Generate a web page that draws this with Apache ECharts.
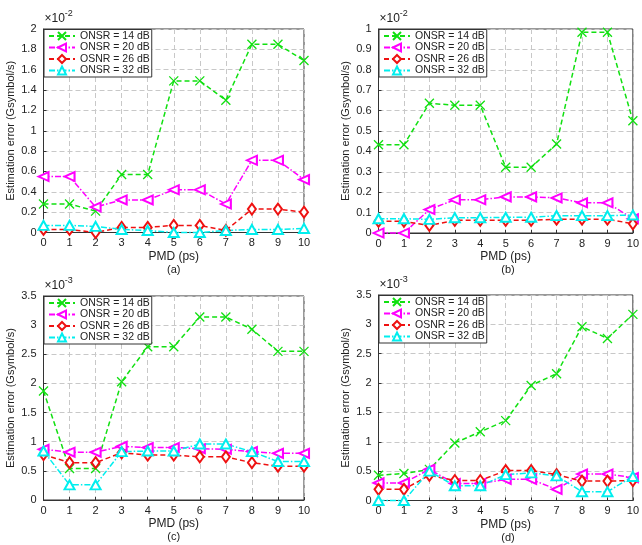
<!DOCTYPE html>
<html>
<head>
<meta charset="utf-8">
<script src="https://cdn.jsdelivr.net/npm/echarts@6/dist/echarts.min.js"></script>
<style>html,body{margin:0;padding:0;background:#fff}#c{width:642px;height:545px}</style>
</head>
<body>
<div id="c"></div>
<script>
// ---------- data ----------
const pmd = [0,1,2,3,4,5,6,7,8,9,10];
const seriesNames = ['ONSR = 14 dB','ONSR = 20 dB','OSNR = 26 dB','ONSR = 32 dB'];

// panel (a), values in units of 1e-2
const a14 = [0.28,0.28,0.21,0.57,0.57,1.49,1.49,1.30,1.85,1.85,1.69];
const a20 = [0.55,0.55,0.25,0.32,0.32,0.42,0.42,0.28,0.71,0.71,0.52];
const a26 = [0.03,0.03,0.00,0.05,0.05,0.07,0.07,0.02,0.23,0.23,0.20];
const a32 = [0.07,0.07,0.06,0.03,0.02,0.00,0.00,0.02,0.03,0.03,0.04];
// panel (b), units of 1e-2
const b14 = [0.433,0.433,0.636,0.626,0.626,0.322,0.322,0.436,0.984,0.984,0.55];
const b20 = [0.00,0.00,0.115,0.163,0.163,0.177,0.177,0.172,0.148,0.148,0.07];
const b26 = [0.057,0.057,0.037,0.062,0.062,0.062,0.062,0.068,0.068,0.068,0.045];
const b32 = [0.07,0.07,0.067,0.075,0.075,0.077,0.077,0.085,0.085,0.085,0.088];
// panel (c), units of 1e-3
const c14 = [1.87,0.54,0.54,2.03,2.63,2.63,3.14,3.14,2.93,2.55,2.55];
const c20 = [0.87,0.82,0.82,0.92,0.90,0.90,0.88,0.87,0.83,0.80,0.80];
const c26 = [0.78,0.64,0.64,0.81,0.77,0.77,0.74,0.74,0.64,0.58,0.58];
const c32 = [0.84,0.26,0.26,0.83,0.84,0.84,0.96,0.96,0.83,0.66,0.66];
// panel (d), units of 1e-3
const d14 = [0.43,0.46,0.53,0.98,1.17,1.36,1.96,2.16,2.96,2.76,3.17];
const d20 = [0.30,0.30,0.53,0.29,0.29,0.36,0.36,0.19,0.45,0.45,0.39];
const d26 = [0.19,0.19,0.43,0.34,0.34,0.51,0.51,0.44,0.33,0.33,0.34];
const d32 = [0.00,0.00,0.50,0.25,0.25,0.44,0.47,0.42,0.15,0.15,0.41];

const xTicks = [0,1,2,3,4,5,6,7,8,9,10];
const yTicksA = [0,0.2,0.4,0.6,0.8,1,1.2,1.4,1.6,1.8,2];
const yTicksB = [0,0.1,0.2,0.3,0.4,0.5,0.6,0.7,0.8,0.9,1];
const yTicksC = [0,0.5,1,1.5,2,2.5,3,3.5];
const yTicksD = [0,0.5,1,1.5,2,2.5,3,3.5];
const exponents = ['-2','-2','-3','-3'];
const panelLabels = ['(a)','(b)','(c)','(d)'];
const xTitle = 'PMD (ps)';
const yTitle = 'Estimation error (Gsymbol/s)';

// ---------- layout / style ----------
const FONT = 'Liberation Sans, Arial, sans-serif';
const TXT = '#222';
const grids = [
  {left:43.5, top:29, width:260.5, height:203.5},
  {left:378.5, top:29, width:259, height:204},
  {left:43.5, top:296, width:260.5, height:204},
  {left:378.5, top:295, width:259, height:205.5}
];
const panels = [
  {data:[a14,a20,a26,a32], ticks:yTicksA},
  {data:[b14,b20,b26,b32], ticks:yTicksB},
  {data:[c14,c20,c26,c32], ticks:yTicksC},
  {data:[d14,d20,d26,d32], ticks:yTicksD}
];
const styles = [
  {color:'#11e011', symbol:'path://M0,0L10,10M10,0L0,10', size:9, rotate:0, dash:[5,3]},
  {color:'#ff00ff', symbol:'emptyTriangle', size:[9,10], rotate:90, dash:[6,2,1.5,2]},
  {color:'#ee1111', symbol:'emptyDiamond', size:[8,11], rotate:0, dash:[5,3]},
  {color:'#00eeee', symbol:'emptyTriangle', size:[10,9], rotate:0, dash:[6,2,1.5,2]}
];

const option = {
  animation:false,
  textStyle:{fontFamily:FONT},
  grid: grids.map(g => Object.assign({show:true, borderColor:'#333', borderWidth:1, containLabel:false}, g)),
  xAxis: grids.map((g,i) => ({
    type:'value', gridIndex:i, min:xTicks[0], max:xTicks[xTicks.length-1], interval:1,
    name:xTitle, nameLocation:'middle', nameGap:18,
    nameTextStyle:{fontSize:12, color:TXT, fontFamily:FONT},
    axisLine:{show:true, lineStyle:{color:'#333', width:1}},
    axisTick:{show:true, inside:true, length:3, lineStyle:{color:'#333'}},
    axisLabel:{fontSize:11, color:TXT, margin:5, fontFamily:FONT},
    splitLine:{show:true, lineStyle:{color:'#c8c8c8', type:[5,3], width:1}}
  })),
  yAxis: panels.map((p,i) => ({
    type:'value', gridIndex:i, min:p.ticks[0], max:p.ticks[p.ticks.length-1],
    interval:p.ticks[1]-p.ticks[0],
    name:yTitle, nameLocation:'middle', nameGap:27,
    nameTextStyle:{fontSize:11, color:TXT, fontFamily:FONT},
    axisLine:{show:true, lineStyle:{color:'#333', width:1}},
    axisTick:{show:true, inside:true, length:3, lineStyle:{color:'#333'}},
    axisLabel:{fontSize:11, color:TXT, margin:7, fontFamily:FONT,
      formatter: v => String(+v.toFixed(2))},
    splitLine:{show:true, lineStyle:{color:'#c8c8c8', type:[5,3], width:1}}
  })),
  legend: grids.map((g,i) => ({
    orient:'vertical', left:g.left+0.5, top:g.top+0.5,
    data:seriesNames, backgroundColor:'#fff', borderColor:'#333', borderWidth:1,
    padding:[1,2,1,4], itemGap:0.5, itemWidth:26, itemHeight:10,
    textStyle:{fontSize:10.5, lineHeight:9, color:TXT, fontFamily:FONT},
    selectedMode:false
  })),
  series: [],
  graphic: []
};

panels.forEach((p,i) => {
  p.data.forEach((vals,k) => {
    const s = styles[k];
    option.series.push({
      type:'line', name:seriesNames[k], xAxisIndex:i, yAxisIndex:i,
      data: pmd.map((x,j) => [x, vals[j]]),
      symbol:s.symbol, symbolSize:s.size, symbolRotate:s.rotate, showAllSymbol:true,
      clip:false,
      color:s.color,
      lineStyle:{color:s.color, width:1.5, type:s.dash},
      itemStyle:{color:s.color, borderColor:s.color, borderWidth:1.3},
      emphasis:{disabled:true}
    });
  });
  const g = grids[i];
  option.graphic.push({
    type:'text', left:g.left+1, top:g.top-20,
    style:{text:'{a|×10}{b|' + exponents[i] + '}', fontFamily:FONT,
      rich:{a:{fontSize:12, fill:TXT, fontFamily:FONT, padding:[6,0,0,0]},
            b:{fontSize:9, fill:TXT, fontFamily:FONT, padding:[0,0,4,0]}}}
  });
  option.graphic.push({
    type:'text', x:g.left + g.width/2, y:g.top + g.height + 37,
    style:{text:panelLabels[i], fontSize:11, fill:TXT, fontFamily:FONT, align:'center', verticalAlign:'middle'}
  });
});

const chart = echarts.init(document.getElementById('c'), null, {renderer:'canvas'});
chart.setOption(option);
</script>
</body>
</html>
